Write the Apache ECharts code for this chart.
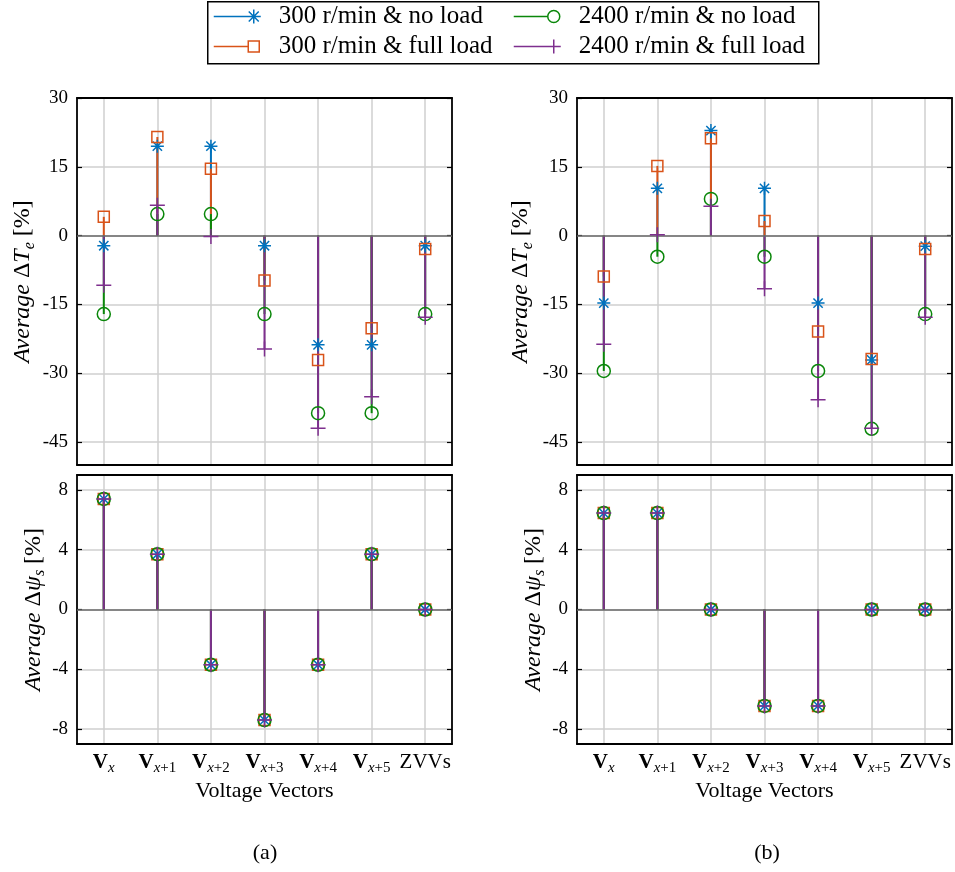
<!DOCTYPE html>
<html>
<head>
<meta charset="utf-8">
<script src="https://cdn.jsdelivr.net/npm/echarts@6/dist/echarts.min.js"></script>
<style>
  html, body { margin: 0; padding: 0; background: #fff; }
  #chart { width: 955px; height: 872px; }
</style>
</head>
<body>
<div id="chart"></div>
<script>
// Applied voltage vectors (x axis)
const vectors = ['V_x', 'V_x+1', 'V_x+2', 'V_x+3', 'V_x+4', 'V_x+5', 'ZVVs'];
const seriesNames = ['300 r/min & no load', '300 r/min & full load', '2400 r/min & no load', '2400 r/min & full load'];

// (a) average torque deviation [%]
const torqueA300NoLoad   = [-2.2, 19.5, 19.5, -2.2, -23.8, -23.8, -2.2];
const torqueA300Full     = [4.1, 21.5, 14.6, -9.8, -27.1, -20.2, -2.9];
const torqueA2400NoLoad  = [-17.1, 4.7, 4.7, -17.1, -38.7, -38.7, -17.1];
const torqueA2400Full    = [-10.8, 6.6, -0.2, -24.7, -42.0, -35.1, -17.8];
// (b) average torque deviation [%]
const torqueB300NoLoad   = [-14.7, 10.3, 22.9, 10.3, -14.7, -27.1, -2.3];
const torqueB300Full     = [-8.9, 15.2, 21.2, 3.2, -20.9, -26.9, -2.9];
const torqueB2400NoLoad  = [-29.5, -4.6, 8.0, -4.6, -29.5, -42.1, -17.1];
const torqueB2400Full    = [-23.7, 0.2, 6.4, -11.6, -35.8, -42.0, -17.8];
// average flux deviation [%] (identical for all operating points)
const fluxA = [7.4, 3.7, -3.7, -7.4, -3.7, 3.7, 0];
const fluxB = [6.45, 6.45, 0, -6.45, -6.45, 0, 0];

// tick labels
const torqueTicks = [-45, -30, -15, 0, 15, 30];
const fluxTicks = [-8, -4, 0, 4, 8];

const SERIF = '"Liberation Serif", "Times New Roman", serif';
const colors = ['#0072BD', '#D95319', '#0A870A', '#7E2F8E'];
const markers = [
  'path://M0 7L14 7M7 0L7 14M2 2L12 12M2 12L12 2',   // asterisk
  'rect',
  'circle',
  'path://M0 7L14 7M7 0L7 14'                          // plus
];
const markerSizes = [13, 11, 13, 15];
const legendIcons = [
  'path://M0 7L40 7M33 7L47 7M40 0L40 14M35 2L45 12M35 12L45 2',
  'path://M0 0L0 0M47 14L47 14M0 7L34.5 7M34.5 1.5L45.5 1.5L45.5 12.5L34.5 12.5Z',
  'path://M0 0L0 0M47 14L47 14M0 7L34 7M46 7A6 6 0 1 1 34 7A6 6 0 1 1 46 7',
  'path://M0 7L47 7M40 0L40 14'
];

const grids = [
  { left: 77,  top: 98,  width: 375, height: 367 },
  { left: 577, top: 98,  width: 375, height: 367 },
  { left: 77,  top: 475, width: 375, height: 269 },
  { left: 577, top: 475, width: 375, height: 269 }
];

const torqueName = '{i|Average }{n|Δ}{i|T}{s|e}{n| [%]}';
const fluxName = '{i|Average }{n|Δ}{i|ψ}{s|s}{n| [%]}';
const nameRich = {
  i: { fontFamily: SERIF, fontStyle: 'italic', fontSize: 24, color: '#000', verticalAlign: 'bottom', padding: [0, 0, 3, 0] },
  n: { fontFamily: SERIF, fontSize: 24, color: '#000', verticalAlign: 'bottom', padding: [0, 0, 3, 0] },
  s: { fontFamily: SERIF, fontStyle: 'italic', fontSize: 16, color: '#000', verticalAlign: 'bottom' }
};

const panels = [
  { data: [torqueA300NoLoad, torqueA300Full, torqueA2400NoLoad, torqueA2400Full], min: -50, max: 30, ticks: torqueTicks, name: torqueName, nameGap: 39, showX: false },
  { data: [torqueB300NoLoad, torqueB300Full, torqueB2400NoLoad, torqueB2400Full], min: -50, max: 30, ticks: torqueTicks, name: torqueName, nameGap: 41, showX: false },
  { data: [fluxA, fluxA, fluxA, fluxA], min: -9, max: 9, ticks: fluxTicks, name: fluxName, nameGap: 28, showX: true },
  { data: [fluxB, fluxB, fluxB, fluxB], min: -9, max: 9, ticks: fluxTicks, name: fluxName, nameGap: 28, showX: true }
];

function vectorLabel(v) {
  const parts = v.split('_');
  if (parts.length < 2) return '{r|' + v + '}';
  const sub = parts[1];
  return '{v|V}{si|' + sub.charAt(0) + '}' + (sub.length > 1 ? '{sn|' + sub.slice(1) + '}' : '');
}
const vectorRich = {
  v:  { fontFamily: SERIF, fontWeight: 'bold', fontSize: 21, color: '#000', verticalAlign: 'bottom', padding: [0, 0, 3, 0] },
  si: { fontFamily: SERIF, fontStyle: 'italic', fontSize: 15, color: '#000', verticalAlign: 'bottom' },
  sn: { fontFamily: SERIF, fontSize: 15, color: '#000', verticalAlign: 'bottom' },
  r:  { fontFamily: SERIF, fontSize: 21, color: '#000', verticalAlign: 'bottom', padding: [0, 0, 3, 0] }
};

const frameLine = { onZero: false, lineStyle: { color: '#000', width: 1.8 } };
const gridLine = { color: '#cfcfcf', width: 1.5 };

const xAxes = [], yAxes = [], series = [];
panels.forEach((p, g) => {
  xAxes.push({
    gridIndex: g, type: 'category', data: vectors, position: 'bottom',
    axisLine: frameLine,
    axisTick: { inside: true, alignWithLabel: true, length: 5, lineStyle: { color: '#000', width: 1.2 } },
    splitLine: { show: true, alignWithLabel: true, lineStyle: gridLine },
    axisLabel: { show: p.showX, interval: 0, hideOverlap: false, margin: 8, formatter: vectorLabel, rich: vectorRich },
    name: p.showX ? 'Voltage Vectors' : '', nameLocation: 'middle', nameGap: 36,
    nameTextStyle: { fontFamily: SERIF, fontSize: 22, color: '#000' }
  });
  xAxes.push({
    gridIndex: g, type: 'category', data: vectors, position: 'top',
    axisLine: frameLine,
    axisTick: { inside: true, alignWithLabel: true, length: 5, lineStyle: { color: '#000', width: 1.2 } },
    splitLine: { show: false }, axisLabel: { show: false }
  });
  yAxes.push({
    gridIndex: g, type: 'value', min: p.min, max: p.max, position: 'left',
    axisLine: Object.assign({ show: true }, frameLine),
    axisTick: { show: true, inside: true, length: 5, customValues: p.ticks, lineStyle: { color: '#000', width: 1.2 } },
    axisLabel: { customValues: p.ticks, margin: 9, fontFamily: SERIF, fontSize: 19, color: '#000' },
    splitLine: { show: true, lineStyle: gridLine },
    name: p.name, nameLocation: 'middle', nameGap: p.nameGap, nameRotate: 90,
    nameTextStyle: { rich: nameRich }
  });
  yAxes.push({
    gridIndex: g, type: 'value', min: p.min, max: p.max, position: 'right',
    axisLine: Object.assign({ show: true }, frameLine),
    axisTick: { show: true, inside: true, length: 5, customValues: p.ticks, lineStyle: { color: '#000', width: 1.2 } },
    axisLabel: { show: false }, splitLine: { show: false }
  });

  p.data.forEach((vals, k) => {
    const stem = {
      type: 'bar', name: seriesNames[k], xAxisIndex: 2 * g, yAxisIndex: 2 * g,
      data: vals, barWidth: 2, barGap: '-100%', silent: true, z: 3,
      itemStyle: { color: colors[k] }
    };
    if (k === 0) {
      stem.markLine = {
        silent: true, symbol: ['none', 'none'], animation: false,
        label: { show: false },
        lineStyle: { color: '#6a6a6a', width: 1.6, type: 'solid' },
        data: [{ yAxis: 0 }]
      };
    }
    series.push(stem);
  });
  p.data.forEach((vals, k) => {
    series.push({
      type: 'scatter', name: seriesNames[k], xAxisIndex: 2 * g, yAxisIndex: 2 * g,
      data: vals, symbol: markers[k], symbolSize: markerSizes[k], silent: true, z: 5,
      itemStyle: { color: 'none', borderColor: colors[k], borderWidth: 1.5, opacity: 1 }
    });
  });
});

function legendItem(k) {
  return {
    name: seriesNames[k], icon: legendIcons[k],
    itemStyle: { color: 'rgba(0,0,0,0)', borderColor: colors[k], borderWidth: 1.5 }
  };
}
const legendBase = {
  orient: 'vertical', top: 4, itemGap: 5, itemWidth: 47, itemHeight: 14, padding: 0,
  selectedMode: false,
  textStyle: { fontFamily: SERIF, fontSize: 25, lineHeight: 24, color: '#000', padding: [0, 0, 0, 13] }
};

const option = {
  animation: false,
  backgroundColor: '#fff',
  grid: grids,
  xAxis: xAxes,
  yAxis: yAxes,
  legend: [
    Object.assign({ left: 213, data: [legendItem(0), legendItem(1)] }, legendBase),
    Object.assign({ left: 513, data: [legendItem(2), legendItem(3)] }, legendBase)
  ],
  graphic: [
    { type: 'rect', left: 207, top: 1, z: 0, shape: { width: 611, height: 62 },
      style: { fill: '#fff', stroke: '#000', lineWidth: 1.5 } },
    { type: 'text', x: 265, y: 853, style: { text: '(a)', fontFamily: SERIF, fontSize: 22, fill: '#000', textAlign: 'center', textVerticalAlign: 'middle' } },
    { type: 'text', x: 767, y: 853, style: { text: '(b)', fontFamily: SERIF, fontSize: 22, fill: '#000', textAlign: 'center', textVerticalAlign: 'middle' } }
  ],
  series: series
};

echarts.init(document.getElementById('chart'), null, { renderer: 'canvas' }).setOption(option);
</script>
</body>
</html>
